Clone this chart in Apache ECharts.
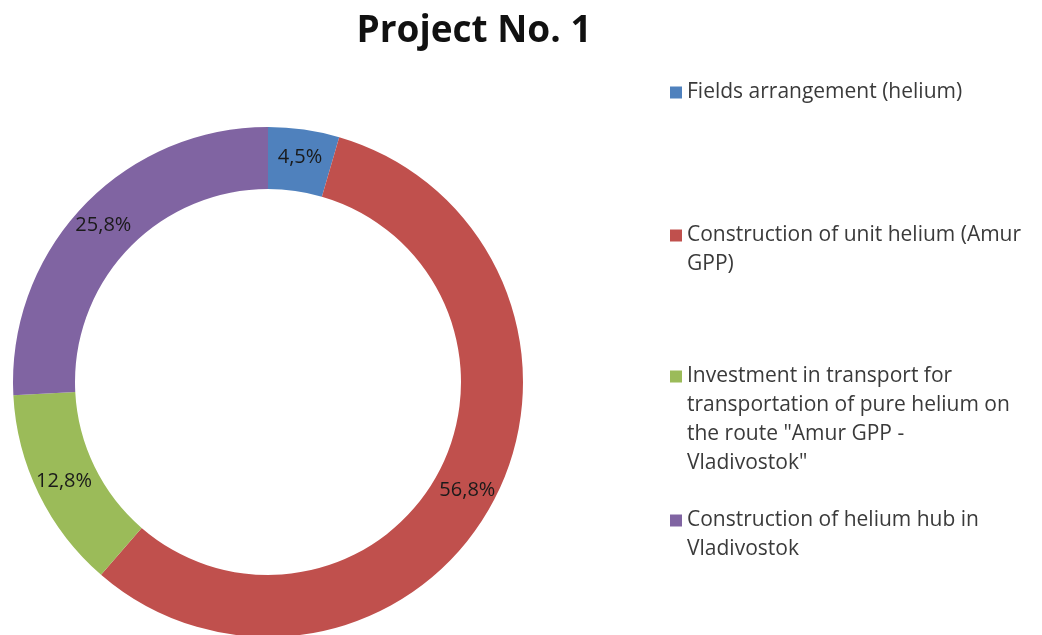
<!DOCTYPE html>
<html>
<head>
<meta charset="utf-8">
<script src="https://cdn.jsdelivr.net/npm/echarts@6/dist/echarts.min.js"></script>
<style>
  html, body { margin: 0; padding: 0; background: #fff; }
  #chart { width: 1042px; height: 635px; }
</style>
</head>
<body>
<div id="chart"></div>
<script>
const categories = [
  "Fields arrangement (helium)",
  "Construction of unit helium (Amur GPP)",
  "Investment in transport for transportation of pure helium on the route \"Amur GPP - Vladivostok\"",
  "Construction of helium hub in Vladivostok"
];
const legendLines = [
  ["Fields arrangement (helium)"],
  ["Construction of unit helium (Amur", "GPP)"],
  ["Investment in transport for", "transportation of pure helium on", "the route \"Amur GPP -", "Vladivostok\""],
  ["Construction of helium hub in", "Vladivostok"]
];
const shares = [4.5, 56.8, 12.8, 25.8];
const colors = ["#4F81BD", "#C0504D", "#9BBB59", "#8064A2"];
// y of the first text line of each legend entry
const legendRows = [91, 234, 375, 519];

const font = "'Open Sans', sans-serif";
const lineH = 29;
const sq = 12;

const chart = echarts.init(document.getElementById("chart"));

// one legend per entry so the uneven spacing can be kept.
// the marker box is stretched to the text height and the square is
// drawn at its top, so it sits next to the first line like in excel
const legends = categories.map((name, i) => {
  const n = legendLines[i].length;
  const h = (n - 1) * lineH + sq;
  return {
    data: [name],
    orient: "vertical",
    left: 665,
    top: legendRows[i] - 18,
    icon: `path://M0,0L${sq},0L${sq},${sq}L0,${sq}ZM0,${h}L0,${h}`,
    itemWidth: sq,
    itemHeight: h,
    selectedMode: false,
    formatter: () => legendLines[i].join("\n"),
    textStyle: {
      fontFamily: font,
      fontSize: 21,
      color: "#3a3a3a",
      lineHeight: lineH
    }
  };
});

chart.setOption({
  animation: false,
  color: colors,
  title: {
    text: "Project No. 1",
    left: 469,
    textAlign: "center",
    top: 8,
    textStyle: { fontFamily: font, fontSize: 37, fontWeight: "bold", color: "#111" }
  },
  legend: legends,
  series: [{
    type: "pie",
    center: [268, 382],
    radius: [193, 255],
    startAngle: 90,
    clockwise: true,
    avoidLabelOverlap: false,
    itemStyle: { borderWidth: 0 },
    label: {
      show: true,
      position: "inside",
      fontFamily: font,
      fontSize: 20,
      color: "#1a1a1a",
      formatter: p => p.value.toFixed(1).replace(".", ",") + "%"
    },
    labelLine: { show: false },
    emphasis: { disabled: true },
    data: categories.map((name, i) => ({ name, value: shares[i] }))
  }]
});
</script>
</body>
</html>
